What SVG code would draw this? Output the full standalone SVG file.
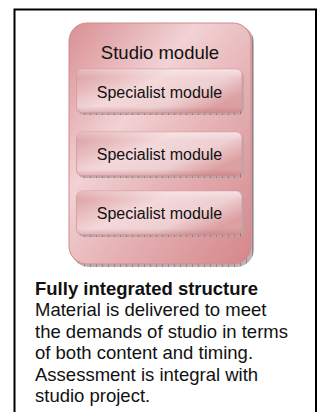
<svg xmlns="http://www.w3.org/2000/svg" width="321" height="412" viewBox="0 0 321 412">
<defs>
<linearGradient id="gStudio" x1="0" y1="0" x2="1" y2="1">
<stop offset="0" stop-color="#d98f93"/>
<stop offset="0.35" stop-color="#f2d2d4"/>
<stop offset="0.6" stop-color="#e6b2b5"/>
<stop offset="1" stop-color="#d5868a"/>
</linearGradient>
<linearGradient id="gSpec" x1="0" y1="0" x2="1" y2="0.6">
<stop offset="0" stop-color="#da9a9d"/>
<stop offset="0.45" stop-color="#f3d7d9"/>
<stop offset="0.75" stop-color="#efd0d2"/>
<stop offset="1" stop-color="#dc9fa2"/>
</linearGradient>
<linearGradient id="gBevel" x1="0" y1="0" x2="0" y2="1">
<stop offset="0" stop-color="#ffffff" stop-opacity="0.35"/>
<stop offset="0.2" stop-color="#ffffff" stop-opacity="0"/>
<stop offset="0.85" stop-color="#b0666a" stop-opacity="0"/>
<stop offset="1" stop-color="#b0666a" stop-opacity="0.35"/>
</linearGradient>
<pattern id="tick" width="6" height="6" patternUnits="userSpaceOnUse">
<rect width="6" height="6" fill="#b7a6a7"/>
<rect width="1" height="6" fill="#7f7072"/>
</pattern>
</defs>
<style>
.shadow{fill:url(#tick);opacity:0.85}
.studio{fill:url(#gStudio);stroke:#d08a8e;stroke-width:1}
.spec{fill:url(#gSpec);stroke:#d7979a;stroke-width:0.8}
.bevel{fill:url(#gBevel)}
.lbl{font-family:"Liberation Sans",Arial,sans-serif;fill:#111;text-anchor:middle}
.body{font-family:"Liberation Sans",Arial,sans-serif;font-size:18.5px;fill:#111}
</style>
<rect x="14.5" y="9.5" width="301.5" height="410" fill="#fff" stroke="#000" stroke-width="2"/>
<g id="studio">
<rect class="shadow" x="71" y="25" width="183" height="242" rx="18"/>
<rect class="studio" x="69" y="23" width="182" height="241" rx="18"/>
<text class="lbl" x="160" y="59" font-size="18.5">Studio module</text>
</g>
<g id="spec1">
<rect class="shadow" x="78" y="71" width="166" height="44" rx="6"/>
<rect class="spec" x="76.5" y="69" width="165.5" height="44" rx="6"/>
<rect class="bevel" x="76.5" y="69" width="165.5" height="44" rx="6"/>
<text class="lbl" x="159.5" y="98" font-size="16">Specialist module</text>
</g>
<g id="spec2">
<rect class="shadow" x="78" y="134" width="166" height="44" rx="6"/>
<rect class="spec" x="76.5" y="132" width="165.5" height="44" rx="6"/>
<rect class="bevel" x="76.5" y="132" width="165.5" height="44" rx="6"/>
<text class="lbl" x="159.5" y="160" font-size="16">Specialist module</text>
</g>
<g id="spec3">
<rect class="shadow" x="78" y="193" width="166" height="44" rx="6"/>
<rect class="spec" x="76.5" y="191" width="165.5" height="44" rx="6"/>
<rect class="bevel" x="76.5" y="191" width="165.5" height="44" rx="6"/>
<text class="lbl" x="159.5" y="219" font-size="16">Specialist module</text>
</g>
<g id="caption">
<text class="body" x="35" y="295" font-weight="bold">Fully integrated structure</text>
<text class="body" x="35" y="316">Material is delivered to meet</text>
<text class="body" x="35" y="338">the demands of studio in terms</text>
<text class="body" x="35" y="359">of both content and timing.</text>
<text class="body" x="35" y="381">Assessment is integral with</text>
<text class="body" x="35" y="402">studio project.</text>
</g>
</svg>
